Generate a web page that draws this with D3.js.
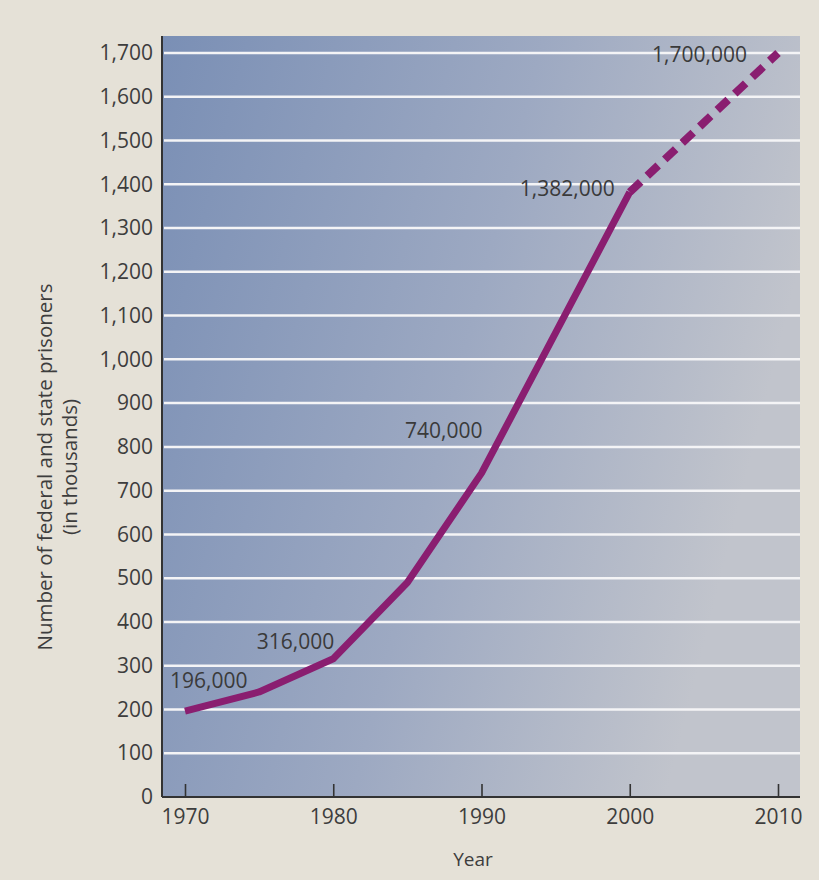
<meta charset="utf-8">
<body>
  <div id="chart"></div>
</body>
<script src="https://cdn.jsdelivr.net/npm/d3@7"></script>
<script>
// prisoners, thousands
var years = [1970, 1975, 1980, 1985, 1990, 2000];
var prisoners = [196, 240, 316, 490, 740, 1382];
var projYears = [2000, 2010];
var projPrisoners = [1382, 1700];

var labelYears = [1970, 1980, 1990, 2000, 2010];
var labelValues = [196, 316, 740, 1382, 1700];
var labelTexts = ["196,000", "316,000", "740,000", "1,382,000", "1,700,000"];

var yTicks = d3.range(0, 1701, 100);
var xTicks = [1970, 1980, 1990, 2000, 2010];

var W = 819, H = 880;
var plot = {left: 162, right: 800, top: 36, bottom: 797};

var svg = d3.select("#chart").append("svg")
  .attr("width", W)
  .attr("height", H);

var defs = svg.append("defs");
var grad = defs.append("linearGradient")
  .attr("id", "bg")
  .attr("x1", "0%").attr("y1", "0%")
  .attr("x2", "100%").attr("y2", "30%");
grad.append("stop").attr("offset", "0%").attr("stop-color", "#7a8fb5");
grad.append("stop").attr("offset", "55%").attr("stop-color", "#9da9c2");
grad.append("stop").attr("offset", "100%").attr("stop-color", "#c1c4cc");

svg.append("rect")
  .attr("width", W).attr("height", H)
  .attr("fill", "#e5e1d7");

var x = d3.scaleLinear().domain([1970, 2010]).range([185, 778]);
var y = d3.scaleLinear().domain([0, 1700]).range([plot.bottom, 53]);

svg.append("rect")
  .attr("x", plot.left).attr("y", plot.top)
  .attr("width", plot.right - plot.left)
  .attr("height", plot.bottom - plot.top)
  .attr("fill", "url(#bg)");

// gridlines
svg.append("g")
  .selectAll("line")
  .data(yTicks.filter(function(d) { return d > 0; }))
  .enter().append("line")
  .attr("x1", plot.left + 2).attr("x2", plot.right)
  .attr("y1", function(d) { return y(d); })
  .attr("y2", function(d) { return y(d); })
  .attr("stroke", "#f4f4f6")
  .attr("stroke-width", 2.5);

// y axis
var yAxis = svg.append("g")
  .attr("transform", "translate(" + plot.left + ",0)")
  .call(d3.axisLeft(y).tickValues(yTicks).tickSize(0).tickPadding(9)
    .tickFormat(d3.format(",")));
yAxis.select(".domain").attr("stroke", "#333").attr("stroke-width", 2)
  .attr("d", "M0," + plot.top + "V" + plot.bottom);

// x axis
var xAxis = svg.append("g")
  .attr("transform", "translate(0," + plot.bottom + ")")
  .call(d3.axisBottom(x).tickValues(xTicks).tickSize(0).tickPadding(12)
    .tickFormat(d3.format("d")));
xAxis.select(".domain").attr("stroke", "#333").attr("stroke-width", 2)
  .attr("d", "M" + plot.left + ",0H" + plot.right);
xAxis.selectAll(".tick line")
  .attr("y1", 0).attr("y2", -13)
  .attr("stroke", "#333").attr("stroke-width", 1.6);

svg.selectAll(".tick text")
  .attr("fill", "#3d3d3d")
  .style("font-size", "21px")
  .style("font-family", "'Open Sans', sans-serif");

// line
var line = d3.line()
  .x(function(d) { return x(d[0]); })
  .y(function(d) { return y(d[1]); });

svg.append("path")
  .datum(d3.zip(years, prisoners))
  .attr("d", line)
  .attr("fill", "none")
  .attr("stroke", "#8a1e70")
  .attr("stroke-width", 7)
  .attr("stroke-linejoin", "round");

svg.append("path")
  .datum(d3.zip(projYears, projPrisoners))
  .attr("d", line)
  .attr("fill", "none")
  .attr("stroke", "#8a1e70")
  .attr("stroke-width", 8)
  .attr("stroke-dasharray", "15,9");

// value labels
var offs = [[-15, -23, "start"], [1, -10, "end"], [1, -35, "end"], [-15, 4, "end"], [-31, 9, "end"]];
svg.append("g")
  .selectAll("text")
  .data(labelTexts)
  .enter().append("text")
  .attr("x", function(d, i) { return x(labelYears[i]) + offs[i][0]; })
  .attr("y", function(d, i) { return y(labelValues[i]) + offs[i][1]; })
  .attr("text-anchor", function(d, i) { return offs[i][2]; })
  .attr("fill", "#3a3a3a")
  .style("font-size", "21px")
  .style("font-family", "'Open Sans', sans-serif")
  .text(String);

// titles
svg.append("text")
  .attr("x", 473).attr("y", 866)
  .attr("text-anchor", "middle")
  .attr("fill", "#3d3d3d")
  .style("font-size", "19px")
  .style("font-family", "'Open Sans', sans-serif")
  .text("Year");

var yt = svg.append("text")
  .attr("transform", "translate(52,467) rotate(-90)")
  .attr("text-anchor", "middle")
  .attr("fill", "#3d3d3d")
  .style("font-size", "20.5px")
  .style("font-family", "'Open Sans', sans-serif");
yt.append("tspan").attr("x", 0).attr("y", 0).text("Number of federal and state prisoners");
yt.append("tspan").attr("x", 0).attr("y", 25).text("(in thousands)");
</script>
<style>
body { margin: 0; }
</style>
